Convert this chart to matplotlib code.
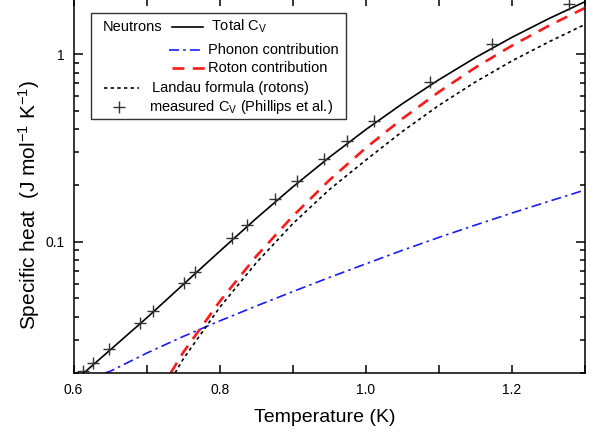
import matplotlib
matplotlib.use("Agg")
import matplotlib.pyplot as plt
from matplotlib.lines import Line2D
from matplotlib.patches import Rectangle
from matplotlib.ticker import FixedLocator, NullFormatter, FixedFormatter

plt.rcParams['font.family'] = ['Liberation Sans', 'DejaVu Sans']
plt.rcParams['mathtext.fontset'] = 'custom'
plt.rcParams['mathtext.rm'] = 'Liberation Sans'
plt.rcParams['mathtext.it'] = 'Liberation Sans:italic'
plt.rcParams['mathtext.bf'] = 'Liberation Sans:bold'

# ---- data ----
T_total = [0.614, 0.65, 0.70, 0.75, 0.80, 0.85, 0.90, 0.95, 1.00, 1.05, 1.10, 1.15, 1.20, 1.25, 1.30]
C_total = [0.020, 0.0265, 0.0393, 0.0592, 0.0891, 0.1334, 0.1963, 0.2825, 0.3972, 0.5458, 0.7328,
           0.9616, 1.233, 1.549, 1.910]

T_phonon = [0.643, 0.65, 0.70, 0.75, 0.80, 0.85, 0.90, 0.95, 1.00, 1.05, 1.10, 1.15, 1.20, 1.25, 1.30]
C_phonon = [0.020, 0.0204, 0.0255, 0.0313, 0.0379, 0.0455, 0.0543, 0.0646, 0.0764, 0.0902, 0.1057,
            0.1230, 0.1426, 0.1644, 0.1892]

T_roton = [0.733, 0.75, 0.80, 0.85, 0.90, 0.95, 1.00, 1.05, 1.10, 1.15, 1.20, 1.25, 1.30]
C_roton = [0.020, 0.0257, 0.0481, 0.0838, 0.1371, 0.2133, 0.3170, 0.4539, 0.631, 0.851, 1.114, 1.419, 1.770]

T_landau = [0.739, 0.75, 0.80, 0.85, 0.90, 0.95, 1.00, 1.05, 1.10, 1.15, 1.20, 1.25, 1.30]
C_landau = [0.020, 0.0237, 0.0447, 0.0773, 0.125, 0.190, 0.273, 0.388, 0.535, 0.713, 0.923, 1.164, 1.445]

T_meas = [0.6126, 0.6271, 0.649, 0.691, 0.7093, 0.7513, 0.7668, 0.8166, 0.8372, 0.8759,
          0.9065, 0.943, 0.9749, 1.0115, 1.0877, 1.1726, 1.2775]
C_meas = [0.0204, 0.0227, 0.0268, 0.0371, 0.0428, 0.0605, 0.0687, 0.1043, 0.1238, 0.1687,
          0.2103, 0.276, 0.344, 0.442, 0.7088, 1.130, 1.867]

xlim = (0.6, 1.3)
ylim = (0.02, 2.0)
x_major = [0.6, 0.8, 1.0, 1.2]
x_major_labels = ['0.6', '0.8', '1.0', '1.2']
x_minor = [0.7, 0.9, 1.1, 1.3]
y_major = [0.1, 1.0]
y_major_labels = ['0.1', '1']

fig = plt.figure(figsize=(6.04, 4.34), dpi=100)
ax = fig.add_axes([0.1217, 0.1406, 0.8469, 0.8641])

lw_ax = 1.1
for s in ax.spines.values():
    s.set_linewidth(lw_ax)

blue_ls = (0, (6, 2.5, 1.5, 2.5))
red_ls = (0, (4.5, 3.2))
dot_ls = (0, (2, 2))

ax.plot(T_total, C_total, color='black', lw=1.2)
ax.plot(T_phonon, C_phonon, color='#1a1aff', lw=1.2, linestyle=blue_ls)
ax.plot(T_roton, C_roton, color='#ff1a1a', lw=1.9, linestyle=red_ls)
ax.plot(T_landau, C_landau, color='black', lw=1.2, linestyle=dot_ls)
ax.plot(T_meas, C_meas, linestyle='none', marker='+', color='#333333', ms=8, mew=1.0)

ax.set_yscale('log')
ax.set_xlim(*xlim)
ax.set_ylim(*ylim)

ax.xaxis.set_major_locator(FixedLocator(x_major))
ax.xaxis.set_major_formatter(FixedFormatter(x_major_labels))
ax.xaxis.set_minor_locator(FixedLocator(x_minor))
ax.xaxis.set_minor_formatter(NullFormatter())
ax.yaxis.set_major_locator(FixedLocator(y_major))
ax.yaxis.set_major_formatter(FixedFormatter(y_major_labels))
y_minor = [m * d for d in (0.01, 0.1, 1.0) for m in range(2, 10)]
ax.yaxis.set_minor_locator(FixedLocator(y_minor))
ax.yaxis.set_minor_formatter(NullFormatter())

ax.tick_params(which='both', direction='in', top=True, right=True, width=lw_ax, labelsize=10)
ax.tick_params(axis='x', which='both', length=6, pad=7.5)
ax.tick_params(axis='y', which='major', length=6.5, pad=6.5)
ax.tick_params(axis='y', which='minor', length=3.5)

ax.text(0.4907, -0.12, 'Temperature (K)', transform=ax.transAxes, fontsize=14,
        ha='center', va='center')
ax.text(-0.087, 0.448, 'Specific heat  (J mol$^{-1}$ K$^{-1}$)', transform=ax.transAxes,
        fontsize=15, rotation=90, ha='center', va='center')

# ---- custom legend box ----
tr = ax.transAxes
ax.add_patch(Rectangle((0.0342, 0.677), 0.532 - 0.0342, 0.961 - 0.677, transform=tr,
                       facecolor='white', edgecolor='#333333', lw=1.0, zorder=5))
fs = 10.5
ax.text(0.0577, 0.9235, 'Neutrons', transform=tr, fontsize=fs, va='center', ha='left', zorder=6)
ax.add_line(Line2D([0.192, 0.2532], [0.9235, 0.9235], transform=tr, color='black', lw=1.2, zorder=6))
ax.text(0.2682, 0.9235, 'Total C$_\\mathregular{V}$', transform=tr, fontsize=fs, va='center', ha='left', zorder=6)
ax.add_line(Line2D([0.1867, 0.2551], [0.8613, 0.8613], transform=tr, color='#1a1aff', lw=1.2,
                   linestyle=blue_ls, zorder=6))
ax.text(0.263, 0.8613, 'Phonon contribution', transform=tr, fontsize=fs, va='center', ha='left', zorder=6)
ax.add_line(Line2D([0.1926, 0.2571], [0.8125, 0.8125], transform=tr, color='#ff1a1a', lw=1.9,
                   linestyle=red_ls, zorder=6))
ax.text(0.263, 0.8125, 'Roton contribution', transform=tr, fontsize=fs, va='center', ha='left', zorder=6)
ax.add_line(Line2D([0.0596, 0.128], [0.76, 0.76], transform=tr, color='black', lw=1.2,
                   linestyle=dot_ls, zorder=6))
ax.text(0.1535, 0.76, 'Landau formula (rotons)', transform=tr, fontsize=fs, va='center', ha='left', zorder=6)
ax.add_line(Line2D([0.0895], [0.710], transform=tr, color='#333333', marker='+', ms=8, mew=1.0,
                   linestyle='none', zorder=6))
ax.text(0.1482, 0.710, 'measured C$_\\mathregular{V}$ (Phillips et al.)', transform=tr, fontsize=fs,
        va='center', ha='left', zorder=6)

fig.savefig('out.png', dpi=100)
